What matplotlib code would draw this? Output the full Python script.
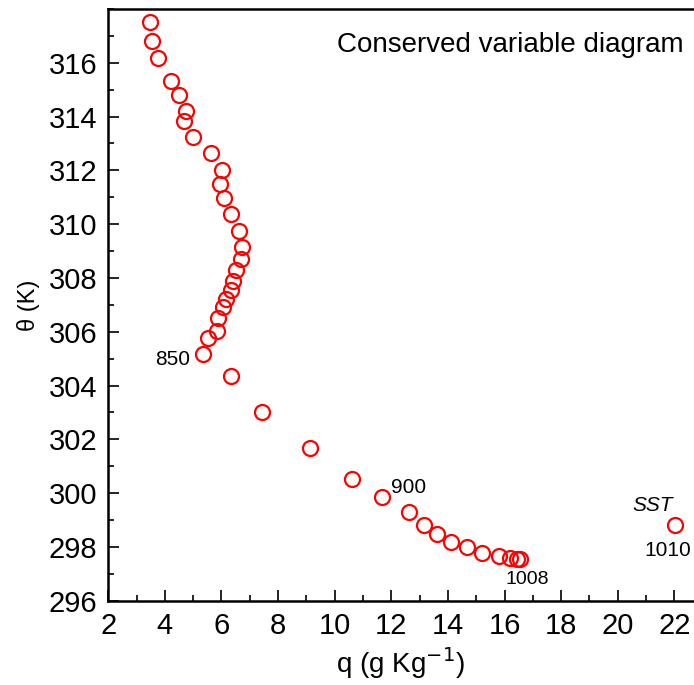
import matplotlib
matplotlib.use("Agg")
import matplotlib.pyplot as plt
from matplotlib.ticker import MultipleLocator

plt.rcParams['font.family'] = ['Liberation Sans', 'DejaVu Sans']

# specific humidity (g/kg) and potential temperature (K)
q = [3.49, 3.55, 3.75, 4.22, 4.51, 4.76, 4.69, 5.00, 5.62, 6.01, 5.94, 6.08,
     6.32, 6.61, 6.73, 6.70, 6.53, 6.40, 6.32, 6.15, 6.04, 5.89, 5.83, 5.54,
     5.36, 6.34, 7.42, 9.14, 10.60, 11.68, 12.61, 13.14, 13.60, 14.11, 14.68,
     15.19, 15.79, 16.18, 16.43, 16.55]
theta = [317.52, 316.82, 316.19, 315.31, 314.79, 314.20, 313.83, 313.25, 312.64,
         312.01, 311.50, 310.97, 310.36, 309.75, 309.15, 308.70, 308.28, 307.90,
         307.55, 307.23, 306.92, 306.51, 306.04, 305.75, 305.19, 304.34, 303.00,
         301.69, 300.54, 299.87, 299.30, 298.80, 298.49, 298.20, 298.01, 297.77,
         297.65, 297.59, 297.56, 297.56]
sst_q, sst_theta = 22.01, 298.83
yticks = list(range(296, 317, 2))

fig = plt.figure(figsize=(6.94, 6.85), dpi=100)
ax = fig.add_axes([0.156, 0.123, 0.843, 0.864])

ax.plot(q, theta, 'o', mfc='none', mec='red', ms=10.8, mew=1.6, ls='none')
ax.plot([sst_q], [sst_theta], 'o', mfc='none', mec='red', ms=10.8, mew=1.6)

ax.set_xlim(2, 22.67)
ax.set_ylim(296, 318)
ax.xaxis.set_major_locator(MultipleLocator(2))
ax.xaxis.set_minor_locator(MultipleLocator(1))
ax.set_yticks(yticks)
ax.yaxis.set_minor_locator(MultipleLocator(1))
ax.tick_params(which='both', direction='in', top=False, right=False,
               labelsize=21, width=1.2)
ax.tick_params(which='major', length=8, pad=8)
ax.tick_params(which='minor', length=4)
for s in ['left', 'bottom', 'top']:
    ax.spines[s].set_linewidth(1.8)
ax.spines['right'].set_visible(False)

ax.set_xlabel('q (g Kg$^{-1}$)', fontsize=20, labelpad=4)
ax.set_ylabel('θ (K)', fontsize=17, labelpad=6)

ax.text(0.983, 0.939, 'Conserved variable diagram', transform=ax.transAxes,
        ha='right', va='center', fontsize=20)
ax.text(4.9, 304.95, '850', fontsize=15, ha='right', va='center')
ax.text(11.98, 300.2, '900', fontsize=15, ha='left', va='center')
ax.text(16.05, 296.8, '1008', fontsize=14, ha='left', va='center')
ax.text(21.96, 299.55, 'SST', fontsize=15, ha='right', va='center', style='italic')
ax.text(20.95, 297.86, '1010', fontsize=15, ha='left', va='center')

fig.savefig('out.png', dpi=100)
